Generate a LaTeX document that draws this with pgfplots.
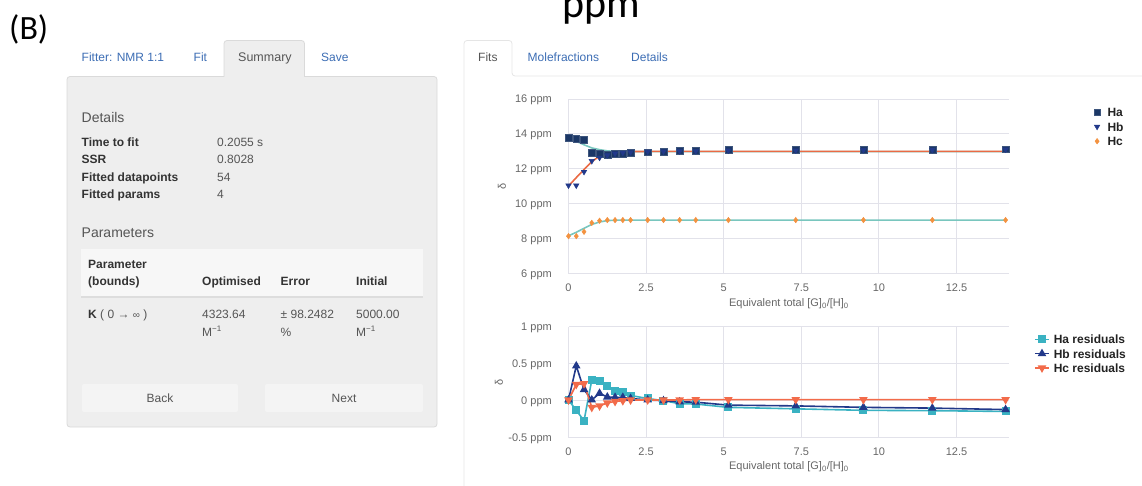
\documentclass[border=0pt]{standalone}
\usepackage{pgfplots}
\pgfplotsset{compat=1.18}
\usepackage{fontspec}
\setmainfont{Liberation Sans}
\newfontfamily\carlito{Carlito}
\newcommand{\fs}[2]{\fontsize{#1}{#2}\selectfont}
\definecolor{linkblue}{HTML}{3C6DB4}
\definecolor{txtgray}{HTML}{555555}
\definecolor{txtdark}{HTML}{333333}
\definecolor{panelfill}{HTML}{EEEEEE}
\definecolor{panelborder}{HTML}{DADADA}
\definecolor{headfill}{HTML}{F7F7F7}
\definecolor{headline}{HTML}{DDDDDD}
\definecolor{btnfill}{HTML}{F4F4F4}
\definecolor{gridc}{HTML}{E2E2EA}
\definecolor{ticktxt}{HTML}{666666}
\definecolor{legtxt}{HTML}{222222}
\definecolor{navyA}{HTML}{1B3766}
\definecolor{navyB}{HTML}{22398A}
\definecolor{orangeC}{HTML}{F39240}
\definecolor{tealfit}{HTML}{79C6BE}
\definecolor{redfit}{HTML}{EA6A44}
\definecolor{tealres}{HTML}{3AB2C2}
\definecolor{redres}{HTML}{F26B4A}
\pgfplotsset{myax/.style={
  scale only axis, width=440.8pt, xmin=0, xmax=14.2, clip=false,
  axis line style={draw=none}, major tick length=0pt,
  grid=major, major grid style={draw=gridc, line width=0.9pt},
  xtick={0,2.5,5,7.5,10,12.5}, xticklabels={0,2.5,5,7.5,10,12.5},
  tick label style={font=\fs{11}{13}, text=ticktxt},
  yticklabel style={anchor=base east, inner sep=0pt, xshift=-16.5pt, yshift=-4pt},
  xticklabel style={anchor=base, inner sep=0pt, yshift=-17.5pt},
  label style={font=\fs{11}{13}, text=ticktxt},
  legend cell align=left,
}}
\begin{document}
\begin{tikzpicture}
\path[use as bounding box] (0pt,0pt) rectangle (1142pt,-486pt);
\begin{scope}[x=1pt,y=-1pt]
\node[anchor=base west, inner sep=0pt, font=\carlito\fs{34}{40}] at (9,40) {(B)};
\begin{scope}
\clip (0,0) rectangle (1142,486);
\node[anchor=base, inner sep=0pt, font=\carlito\fs{42}{50}] at (601,18) {ppm};
\end{scope}
% left panel
\draw[panelborder, fill=panelfill, rounded corners=3pt, line width=0.8pt] (67,76.5) rectangle (437,427);
\draw[panelborder, fill=panelfill, line width=0.8pt, rounded corners=3pt] (224,77) -- (224,40.5) -- (304.5,40.5) -- (304.5,77);
\fill[panelfill] (224.5,75) rectangle (304,78.5);
\node[anchor=base west, inner sep=0pt, font=\fs{12}{14}, text=linkblue] at (81.5,62) {Fitter: NMR 1:1};
\node[anchor=base west, inner sep=0pt, font=\fs{12}{14}, text=linkblue] at (193.5,62) {Fit};
\node[anchor=base west, inner sep=0pt, font=\fs{12.5}{14}, text=txtgray] at (238,62) {Summary};
\node[anchor=base west, inner sep=0pt, font=\fs{12}{14}, text=linkblue] at (321,62) {Save};
\node[anchor=base west, inner sep=0pt, font=\fs{14}{16}, text=txtgray] at (81.5,122.5) {Details};
\foreach \lab/\val/\yy in {Time to fit/0.2055 s/146.5, SSR/0.8028/164, Fitted datapoints/54/181.5, Fitted params/4/199}{
  \node[anchor=base west, inner sep=0pt, font=\fs{12}{14}\bfseries, text=txtdark] at (81.5,\yy) {\lab};
  \node[anchor=base west, inner sep=0pt, font=\fs{12}{14}, text=txtgray] at (217,\yy) {\val};
}
\node[anchor=base west, inner sep=0pt, font=\fs{14}{16}, text=txtgray] at (81.5,237) {Parameters};
\fill[headfill] (81,249) rectangle (423,296.5);
\draw[headline, line width=1.5pt] (81,297) -- (423,297);
\node[anchor=base west, inner sep=0pt, font=\fs{12}{14}\bfseries, text=txtdark] at (88,268.3) {Parameter};
\node[anchor=base west, inner sep=0pt, font=\fs{12}{14}\bfseries, text=txtdark] at (88,285) {(bounds)};
\node[anchor=base west, inner sep=0pt, font=\fs{12}{14}\bfseries, text=txtdark] at (202,285) {Optimised};
\node[anchor=base west, inner sep=0pt, font=\fs{12}{14}\bfseries, text=txtdark] at (280.5,285) {Error};
\node[anchor=base west, inner sep=0pt, font=\fs{12}{14}\bfseries, text=txtdark] at (356,285) {Initial};
\node[anchor=base west, inner sep=0pt, font=\fs{12}{14}, text=txtgray] at (88,318) {\textcolor{txtdark}{\bfseries K} ( 0 → {\fs{10}{10}∞} )};
\node[anchor=base west, inner sep=0pt, font=\fs{12}{14}, text=txtgray] at (202,318) {4323.64};
\node[anchor=base west, inner sep=0pt, font=\fs{12}{14}, text=txtgray] at (202,336) {M\textsuperscript{−1}};
\node[anchor=base west, inner sep=0pt, font=\fs{12}{14}, text=txtgray] at (280.5,318) {± 98.2482};
\node[anchor=base west, inner sep=0pt, font=\fs{12}{14}, text=txtgray] at (280.5,336) {\%};
\node[anchor=base west, inner sep=0pt, font=\fs{12}{14}, text=txtgray] at (356,318) {5000.00};
\node[anchor=base west, inner sep=0pt, font=\fs{12}{14}, text=txtgray] at (356,336) {M\textsuperscript{−1}};
\fill[btnfill, rounded corners=2pt] (82,384) rectangle (238,412);
\fill[btnfill, rounded corners=2pt] (265,384) rectangle (423,412);
\node[anchor=base, inner sep=0pt, font=\fs{12}{14}, text=txtgray] at (160,402) {Back};
\node[anchor=base, inner sep=0pt, font=\fs{12}{14}, text=txtgray] at (344,402) {Next};
% right panel
\draw[panelborder!70, line width=0.8pt, rounded corners=3pt] (464,486) -- (464,40.5) -- (512,40.5) -- (512,76) -- (1142,76);
\node[anchor=base west, inner sep=0pt, font=\fs{12}{14}, text=txtgray] at (478,62) {Fits};
\node[anchor=base west, inner sep=0pt, font=\fs{12}{14}, text=linkblue] at (527.5,62) {Molefractions};
\node[anchor=base west, inner sep=0pt, font=\fs{12}{14}, text=linkblue] at (631,62) {Details};
\end{scope}

% ---------- top chart ----------
\begin{axis}[myax, at={(568.5pt,-273.7pt)}, anchor=south west, height=174.7pt,
  ymin=6, ymax=16, ytick={6,8,10,12,14,16},
  yticklabels={6 ppm,8 ppm,10 ppm,12 ppm,14 ppm,16 ppm},
  ylabel={δ}, xlabel={Equivalent total [G]\textsubscript{0}/[H]\textsubscript{0}},
  ylabel style={at={(axis description cs:-0.151,0.5)}, anchor=center, rotate=0},
  xlabel style={at={(axis description cs:0.5,-0.173)}, anchor=center},
  legend style={at={(axis description cs:1.191,0.956)}, anchor=north west, draw=none, fill=none,
    font=\fs{12}{14}\bfseries, text=legtxt, inner sep=0pt, row sep=3.8pt, column sep=6pt,
    nodes={inner sep=1pt, text height=8.7pt, text depth=0pt}},
  legend image code/.code={\draw[#1] plot coordinates {(0pt,0pt)};},
]
\addplot[only marks, mark=square*, mark size=3.4pt, navyA, mark options={draw=navyA!85!white}] coordinates {
(0,13.78)(0.25,13.71)(0.5,13.65)(0.75,12.92)(1.0,12.85)(1.25,12.81)(1.5,12.89)(1.75,12.89)(2.0,12.92)
(2.55,12.96)(3.06,12.99)(3.58,13.03)(4.1,13.04)(5.15,13.08)(7.32,13.09)(9.5,13.1)(11.72,13.12)(14.08,13.13)};
\addlegendentry{Ha}
\addplot[only marks, mark=triangle*, mark size=3.2pt, navyB, mark options={rotate=180}] coordinates {
(0,11.05)(0.25,11.05)(0.5,11.83)(0.75,12.45)(1.0,12.64)(1.25,12.78)(1.5,12.88)(1.75,12.93)(2.0,12.96)
(2.55,12.99)(3.06,13.0)(3.58,13.01)(4.1,13.02)(5.15,13.05)(7.32,13.06)(9.5,13.08)(11.72,13.09)(14.08,13.11)};
\addlegendentry{Hb}
\addplot[only marks, mark=diamond*, mark size=2.8pt, orangeC] coordinates {
(0,8.15)(0.25,8.15)(0.5,8.40)(0.75,8.91)(1.0,9.03)(1.25,9.07)(1.5,9.07)(1.75,9.07)(2.0,9.07)
(2.55,9.07)(3.06,9.07)(3.58,9.07)(4.1,9.07)(5.15,9.07)(7.32,9.07)(9.5,9.07)(11.72,9.07)(14.08,9.07)};
\addlegendentry{Hc}
\addplot[forget plot, no marks, tealfit, line width=1.6pt] coordinates {
(0,13.79)(0.25,13.58)(0.5,13.38)(0.75,13.2)(1.0,13.1)(1.25,13.03)(1.5,13.0)(1.75,12.99)(2.0,12.99)
(2.55,12.99)(3.06,12.99)(3.58,12.99)(4.1,12.99)(5.15,12.99)(7.32,12.99)(9.5,12.99)(11.72,12.99)(14.08,12.99)};
\addplot[forget plot, no marks, redfit, line width=1.6pt] coordinates {
(0,11.02)(0.25,11.5)(0.5,11.96)(0.75,12.42)(1.0,12.72)(1.25,12.88)(1.5,12.95)(1.75,12.98)(2.0,12.99)
(2.55,13.0)(3.06,13.0)(3.58,13.0)(4.1,13.0)(5.15,13.0)(7.32,13.0)(9.5,13.0)(11.72,13.0)(14.08,13.0)};
\addplot[forget plot, no marks, tealfit, line width=1.6pt] coordinates {
(0,8.17)(0.25,8.37)(0.5,8.6)(0.75,8.82)(1.0,8.96)(1.25,9.04)(1.5,9.06)(1.75,9.07)(2.0,9.07)
(2.55,9.07)(3.06,9.07)(3.58,9.07)(4.1,9.07)(5.15,9.07)(7.32,9.07)(9.5,9.07)(11.72,9.07)(14.08,9.07)};
\end{axis}

% ---------- residual chart ----------
\begin{axis}[myax, at={(568.5pt,-437.7pt)}, anchor=south west, height=111pt,
  ymin=-0.5, ymax=1, ytick={-0.5,0,0.5,1},
  yticklabels={-0.5 ppm,0 ppm,0.5 ppm,1 ppm},
  ylabel={δ}, xlabel={Equivalent total [G]\textsubscript{0}/[H]\textsubscript{0}},
  ylabel style={at={(axis description cs:-0.158,0.5)}, anchor=center},
  xlabel style={at={(axis description cs:0.5,-0.261)}, anchor=center},
  legend style={at={(axis description cs:1.056,0.935)}, anchor=north west, draw=none, fill=none,
    font=\fs{12}{14}\bfseries, text=legtxt, inner sep=0pt, row sep=3.5pt, column sep=3pt,
    nodes={inner sep=1pt, text height=8.7pt, text depth=0pt}},
  legend image code/.code={\draw[#1, mark repeat=2, mark phase=2] plot coordinates {(0pt,0pt)(7pt,0pt)(14pt,0pt)};},
]
\addplot[tealres, line width=1.6pt, mark=square*, mark size=3.2pt] coordinates {
(0,0.01)(0.25,-0.13)(0.5,-0.27)(0.75,0.28)(1.0,0.26)(1.25,0.2)(1.5,0.13)(1.75,0.12)(2.0,0.07)
(2.55,0.03)(3.06,0.0)(3.58,-0.04)(4.1,-0.045)(5.15,-0.09)(7.32,-0.11)(9.5,-0.13)(11.72,-0.135)(14.08,-0.145)};
\addlegendentry{Ha residuals}
\addplot[navyB, line width=1.6pt, mark=triangle*, mark size=3.4pt] coordinates {
(0,0.01)(0.25,0.47)(0.5,0.15)(0.75,0.01)(1.0,0.1)(1.25,0.05)(1.5,0.045)(1.75,0.045)(2.0,0.03)
(2.55,0.01)(3.06,0.0)(3.58,-0.015)(4.1,-0.02)(5.15,-0.06)(7.32,-0.07)(9.5,-0.09)(11.72,-0.1)(14.08,-0.12)};
\addlegendentry{Hb residuals}
\addplot[redres, line width=1.6pt, mark=triangle*, mark size=3.4pt, mark options={rotate=180}] coordinates {
(0,0.01)(0.25,0.22)(0.5,0.23)(0.75,-0.09)(1.0,-0.07)(1.25,-0.03)(1.5,-0.01)(1.75,0.0)(2.0,0.01)
(2.55,0.01)(3.06,0.01)(3.58,0.01)(4.1,0.015)(5.15,0.015)(7.32,0.015)(9.5,0.015)(11.72,0.015)(14.08,0.015)};
\addlegendentry{Hc residuals}
\end{axis}
\end{tikzpicture}
\end{document}
